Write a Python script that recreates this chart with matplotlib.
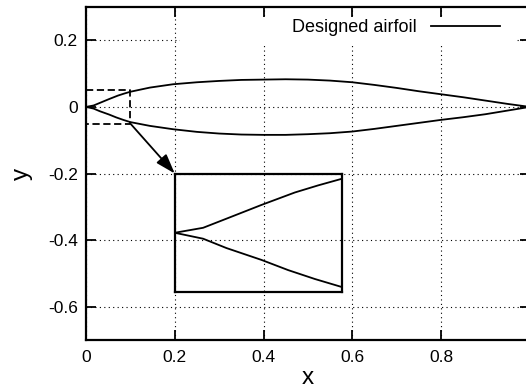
import matplotlib
matplotlib.use("Agg")
import matplotlib.pyplot as plt
from matplotlib.patches import Rectangle

plt.rcParams['font.family'] = ['Liberation Sans', 'DejaVu Sans']

# airfoil coordinates
x_upper = [0.0, 0.017, 0.031, 0.052, 0.072, 0.086, 0.1, 0.144, 0.196, 0.25, 0.3, 0.35, 0.4, 0.45,
           0.5, 0.55, 0.6, 0.65, 0.7, 0.75, 0.8, 0.85, 0.9, 0.95, 1.0]
y_upper = [0.0, 0.0042, 0.0119, 0.0235, 0.034, 0.040, 0.0455, 0.058, 0.068, 0.074, 0.078, 0.081,
           0.082, 0.083, 0.082, 0.079, 0.074, 0.066, 0.057, 0.047, 0.038, 0.029, 0.019, 0.009, 0.0]
x_lower = [0.0, 0.017, 0.031, 0.052, 0.068, 0.084, 0.1, 0.144, 0.196, 0.25, 0.3, 0.35, 0.4, 0.45,
           0.5, 0.55, 0.6, 0.65, 0.7, 0.75, 0.8, 0.85, 0.9, 0.95, 1.0]
y_lower = [0.0, -0.005, -0.0129, -0.0229, -0.0315, -0.039, -0.0457, -0.057, -0.067, -0.075,
           -0.080, -0.083, -0.084, -0.084, -0.082, -0.079, -0.074, -0.066, -0.057, -0.048,
           -0.039, -0.031, -0.022, -0.011, 0.0]

xticks = [0, 0.2, 0.4, 0.6, 0.8]
yticks = [0.2, 0, -0.2, -0.4, -0.6]
xtick_labels = ['0', '0.2', '0.4', '0.6', '0.8']
ytick_labels = ['0.2', '0', '-0.2', '-0.4', '-0.6']

zoom_x = [0.0, 0.1]
zoom_y = [-0.05, 0.05]
inset_box = [0.2, -0.556, 0.376, 0.356]   # x0, y0, width, height in data units

W, H = 526, 390
ax_l, ax_b, ax_w, ax_h = 86, 50, 443.75, 333

fig = plt.figure(figsize=(W / 100, H / 100), dpi=100)
ax = fig.add_axes([ax_l / W, ax_b / H, ax_w / W, ax_h / H])

ax.plot(x_upper + [None] + x_lower, y_upper + [None] + y_lower, color='black', lw=1.3,
        label='Designed airfoil', zorder=3)
ax.set_xlim(0, 1.0)
ax.set_ylim(-0.7, 0.3)
ax.set_xticks(xticks)
ax.set_xticklabels(xtick_labels)
ax.set_yticks(yticks)
ax.set_yticklabels(ytick_labels)
ax.tick_params(direction='in', length=7.5, width=1.3, labelsize=12.5, top=True, right=True,
               color='black')
ax.tick_params(axis='x', pad=7)
ax.tick_params(axis='y', pad=6)
for s in ax.spines.values():
    s.set_linewidth(1.6)
ax.grid(True, color='black', linestyle=(0, (1, 3)), linewidth=0.8)
ax.set_axisbelow(True)
ax.set_xlabel('x', fontsize=17.5, labelpad=1.5)
ax.set_ylabel('y', fontsize=17.5, labelpad=11)

# white key box hiding the grid behind the legend
ax.add_patch(Rectangle(((180 - ax_l) / ax_w, 1 - 38 / ax_h), 336 / ax_w, 28 / ax_h,
                       transform=ax.transAxes, facecolor='white', edgecolor='none', zorder=2))

# dashed zoom region
ax.plot([zoom_x[0], zoom_x[1], zoom_x[1], zoom_x[0]],
        [zoom_y[1], zoom_y[1], zoom_y[0], zoom_y[0]],
        color='black', lw=1.3, linestyle=(0, (4, 2)), zorder=3)

# arrow to the inset
ax.annotate('', xy=(inset_box[0], inset_box[1] + inset_box[3]), xytext=(zoom_x[1], zoom_y[0]),
            arrowprops=dict(arrowstyle='-|>,head_length=1.2,head_width=0.4', color='black',
                            lw=1.3, shrinkA=0, shrinkB=0), zorder=3)

ins = ax.inset_axes(inset_box, transform=ax.transData)
ins.plot(x_upper, y_upper, color='black', lw=1.3)
ins.plot(x_lower, y_lower, color='black', lw=1.3)
ins.set_xlim(zoom_x)
ins.set_ylim(zoom_y)
ins.set_xticks([])
ins.set_yticks([])
ins.patch.set_alpha(0)
for s in ins.spines.values():
    s.set_linewidth(1.6)

leg = ax.legend(loc='upper right', bbox_to_anchor=((500 - ax_l) / ax_w, 1 - 12 / ax_h),
                frameon=False, fontsize=13, markerfirst=False, handlelength=3.8,
                borderpad=0, handletextpad=0.8, borderaxespad=0)
leg.set_zorder(4)

fig.savefig('out.png', dpi=100)
